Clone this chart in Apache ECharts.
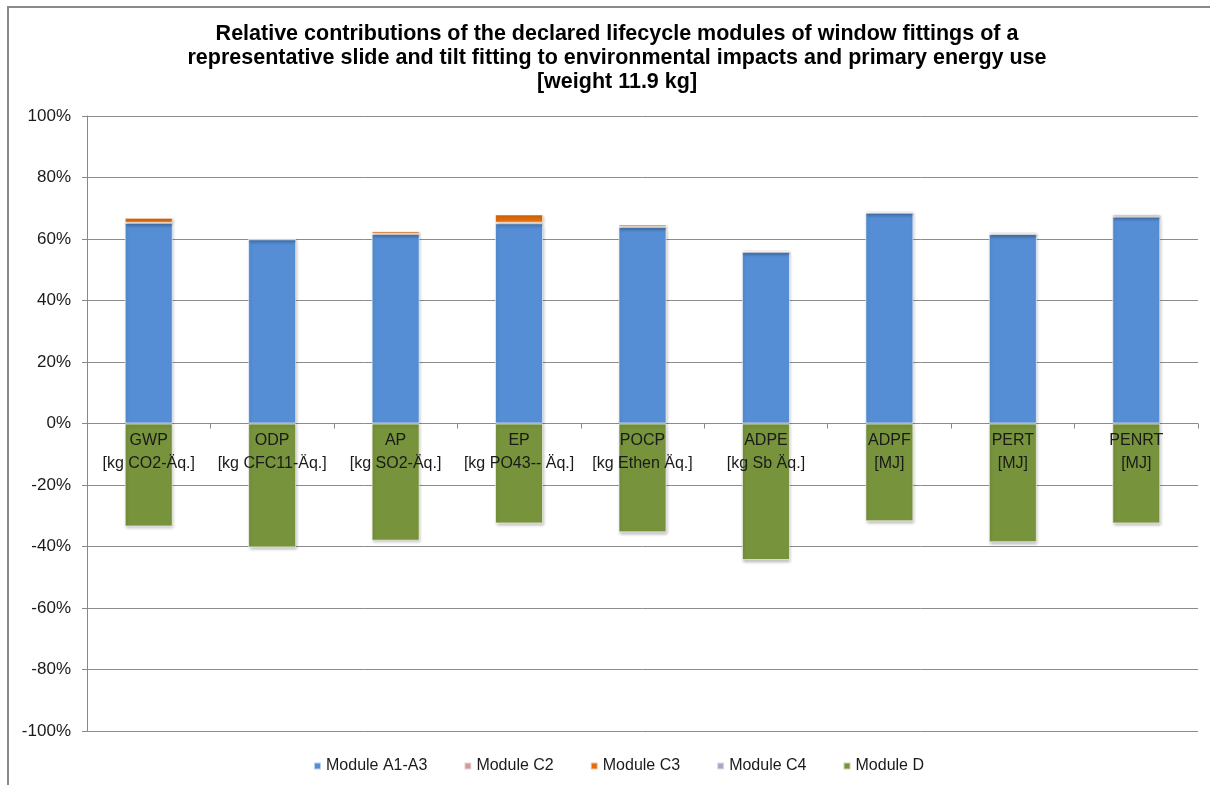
<!DOCTYPE html>
<html>
<head>
<meta charset="utf-8">
<script src="https://cdn.jsdelivr.net/npm/echarts@6/dist/echarts.min.js"></script>
<style>
  html, body { margin: 0; padding: 0; background: #fff; }
  #chart { width: 1210px; height: 785px; }
  #frame { position: absolute; left: 7px; top: 6px; width: 1210px; height: 785px;
           border-left: 2px solid #8a8a8a; border-top: 2px solid #8a8a8a; pointer-events: none; }
</style>
</head>
<body>
<div id="chart"></div>
<div id="frame"></div>
<script>
var categories = [
  "GWP\n[kg CO2-Äq.]", "ODP\n[kg CFC11-Äq.]", "AP\n[kg SO2-Äq.]", "EP\n[kg PO43-- Äq.]",
  "POCP\n[kg Ethen Äq.]", "ADPE\n[kg Sb Äq.]", "ADPF\n[MJ]", "PERT\n[MJ]", "PENRT\n[MJ]"
];
var moduleA1A3 = [0.652, 0.599, 0.616, 0.651, 0.639, 0.558, 0.685, 0.616, 0.672];
var moduleC2 = [0.001, 0.002, 0.001, 0.002, 0.001, 0.002, 0.002, 0.001, 0.007];
var moduleC3 = [0.016, 0.000, 0.008, 0.027, 0.007, 0.000, 0.000, 0.000, 0.000];
var moduleC4 = [0.001, 0.003, 0.002, 0.001, 0.002, 0.005, 0.005, 0.006, 0.004];
var moduleD = [-0.335, -0.403, -0.381, -0.325, -0.354, -0.444, -0.318, -0.386, -0.325];

var chartDom = document.getElementById("chart");
var myChart = echarts.init(chartDom, null, { renderer: "canvas" });

var barStyle = function (color) {
  return {
    color: color,
    borderColor: "rgba(255,255,255,0.6)",
    borderWidth: 1,
    shadowColor: "rgba(0,0,0,0.25)",
    shadowBlur: 3,
    shadowOffsetX: 1,
    shadowOffsetY: 2
  };
};

// grid: top 116, height 615 -> zero line sits half way
var gridTop = 116, gridBottom = 54, gridHeight = 785 - gridTop - gridBottom;

var option = {
  animation: false,
  textStyle: { fontFamily: "Liberation Sans, Arial, sans-serif" },
  title: {
    text: "Relative contributions of the declared lifecycle modules of window fittings of a\nrepresentative slide and tilt fitting to environmental impacts and primary energy use\n[weight 11.9 kg]",
    left: 612,
    top: 17,
    textAlign: "center",
    textStyle: { fontSize: 21.5, fontWeight: "bold", color: "#000", lineHeight: 24, fontFamily: "Liberation Sans, Arial, sans-serif" }
  },
  legend: {
    top: 753,
    left: 308,
    itemWidth: 7,
    itemHeight: 7,
    itemGap: 36,
    icon: "rect",
    textStyle: { fontSize: 16, color: "#1a1a1a" },
    data: ["Module A1-A3", "Module C2", "Module C3", "Module C4", "Module D"]
  },
  grid: { left: 87, right: 12, top: gridTop, bottom: gridBottom },
  xAxis: {
    type: "category",
    data: categories,
    z: 10,
    position: "bottom",
    offset: -gridHeight / 2,
    axisLine: { show: true, onZero: false, lineStyle: { color: "#888", opacity: 0 } },
    axisTick: { show: true, length: 5, lineStyle: { color: "#888" } },
    axisLabel: { interval: 0, fontSize: 16, color: "#1a1a1a", lineHeight: 23, margin: 6 }
  },
  yAxis: {
    type: "value",
    min: -1,
    max: 1,
    interval: 0.2,
    axisLine: { show: true, lineStyle: { color: "#888" } },
    axisTick: { show: true, length: 5, lineStyle: { color: "#888" } },
    axisLabel: {
      fontSize: 17,
      color: "#1a1a1a",
      margin: 16,
      formatter: function (v) { return Math.round(v * 100) + "%"; }
    },
    splitLine: { show: true, lineStyle: { color: "#8c8c8c", width: 1 } }
  },
  series: [
    { name: "Module A1-A3", type: "bar", stack: "all", barWidth: 48, data: moduleA1A3, itemStyle: barStyle("#558ed5") },
    { name: "Module C2", type: "bar", stack: "all", data: moduleC2, itemStyle: barStyle("#d09a98") },
    { name: "Module C3", type: "bar", stack: "all", data: moduleC3, itemStyle: barStyle("#e46c0a") },
    { name: "Module C4", type: "bar", stack: "all", data: moduleC4, itemStyle: barStyle("#b3a2c7") },
    { name: "Module D", type: "bar", stack: "all", data: moduleD, itemStyle: barStyle("#77933c") }
  ]
};
option && myChart.setOption(option);
</script>
</body>
</html>
